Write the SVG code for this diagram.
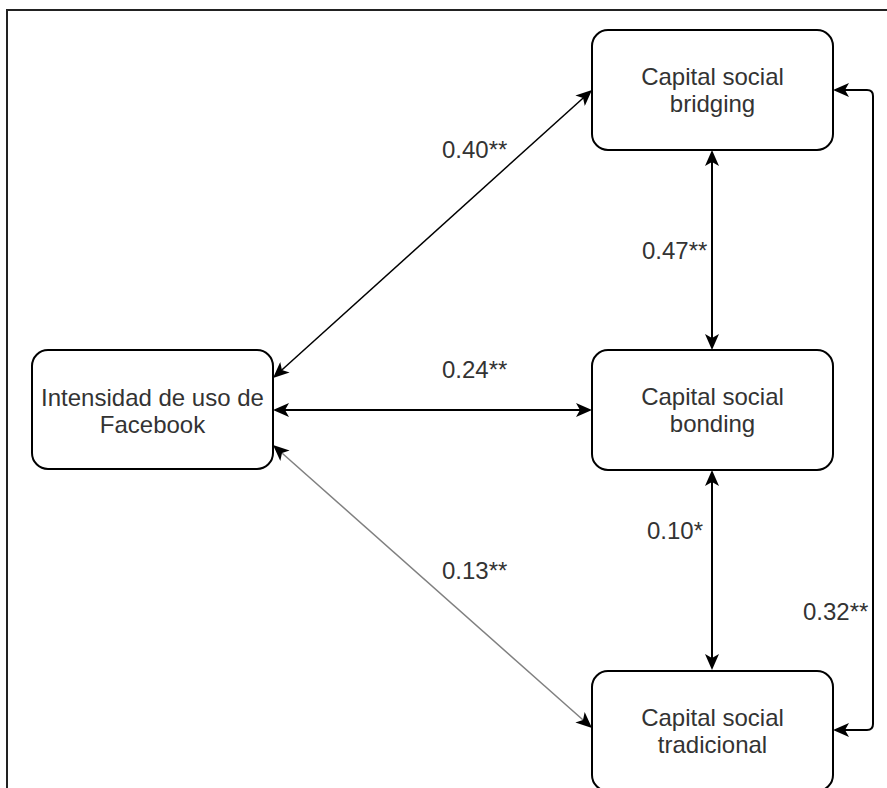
<svg xmlns="http://www.w3.org/2000/svg" width="887" height="788" viewBox="0 0 887 788">
<style>
.node rect{fill:#ffffff;stroke:#000000;stroke-width:2}
.node text,.lbl{font-family:"Liberation Sans",Arial,sans-serif;font-size:24px;fill:#333333}
.node text{text-anchor:middle}
.edge{fill:none;stroke:#000000;stroke-width:2;marker-start:url(#arr);marker-end:url(#arr)}
.edge.grey{stroke:#808080;stroke-width:1.5;marker-start:url(#arrg);marker-end:url(#arrg)}
.edge.thin{stroke-width:1.5}
</style>
<defs>
<marker id="arr" viewBox="0 0 16 14" refX="12" refY="7" markerWidth="16" markerHeight="14" markerUnits="userSpaceOnUse" orient="auto-start-reverse">
<path d="M16,7 L0,0 L4,7 L0,14 Z" fill="#000000"/>
</marker>
<marker id="arrg" viewBox="0 0 16 14" refX="12" refY="7" markerWidth="16" markerHeight="14" markerUnits="userSpaceOnUse" orient="auto-start-reverse">
<path d="M16,7 L0,0 L4,7 L0,14 Z" fill="#000000"/>
</marker>
</defs>
<rect x="0" y="0" width="887" height="788" fill="#ffffff"/>
<path d="M7,788 V10 H887" fill="none" stroke="#222222" stroke-width="2"/>
<g id="connectors">
<path class="edge thin" d="M276,375.3 L589,92.7"/>
<path class="edge" d="M277,410 L588,410"/>
<path class="edge grey" d="M276,447.7 L589,725.3"/>
<path class="edge" d="M712,154 L712,346"/>
<path class="edge" d="M712,474 L712,666"/>
<path class="edge" d="M837,90 H867 Q873,90 873,96 V724 Q873,730 867,730 H837"/>
</g>
<g id="labels">
<text class="lbl" x="442" y="158">0.40**</text>
<text class="lbl" x="442" y="378">0.24**</text>
<text class="lbl" x="442" y="579">0.13**</text>
<text class="lbl" x="642" y="259">0.47**</text>
<text class="lbl" x="647" y="539">0.10*</text>
<text class="lbl" x="803" y="620">0.32**</text>
</g>
<g id="facebook" class="node">
<rect x="32" y="350" width="241" height="119" rx="16" ry="16"/>
<text x="152.5" y="406">Intensidad de uso de</text>
<text x="152.5" y="433">Facebook</text>
</g>
<g id="bridging" class="node">
<rect x="592" y="30" width="241" height="120" rx="16" ry="16"/>
<text x="712.5" y="85">Capital social</text>
<text x="712.5" y="112">bridging</text>
</g>
<g id="bonding" class="node">
<rect x="592" y="350" width="241" height="120" rx="16" ry="16"/>
<text x="712.5" y="405">Capital social</text>
<text x="712.5" y="432">bonding</text>
</g>
<g id="tradicional" class="node">
<rect x="592" y="671" width="241" height="120" rx="16" ry="16"/>
<text x="712.5" y="726">Capital social</text>
<text x="712.5" y="753">tradicional</text>
</g>
</svg>
